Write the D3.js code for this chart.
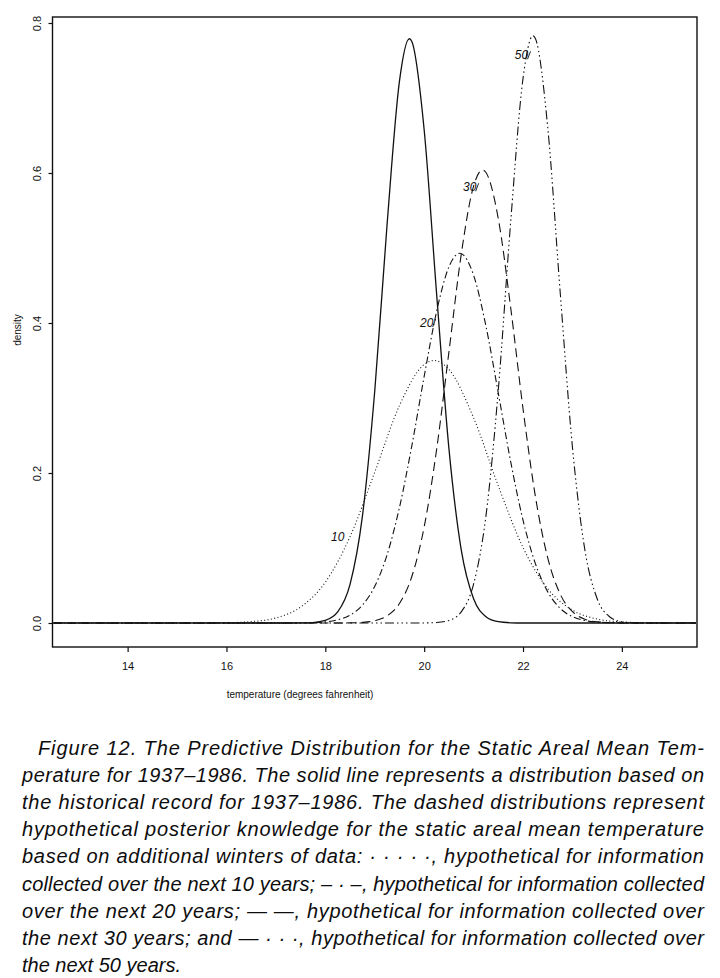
<!DOCTYPE html>
<html>
<head>
<meta charset="utf-8">
<script src="https://cdn.jsdelivr.net/npm/d3@7"></script>
<style>
  html, body { margin: 0; padding: 0; background: #fff; }
  svg { display: block; }
  .tick text { font-family: "Liberation Sans", Arial, sans-serif; }
</style>
</head>
<body>
<svg id="chart" width="720" height="978"></svg>
<script>
// densities, temperature in degrees F
const solidTemp = [12.5, 15, 17, 17.5, 17.75, 18, 18.25, 18.5, 18.75, 19, 19.25, 19.5, 19.7, 19.75, 20, 20.25, 20.5, 20.75, 21, 21.25, 21.5, 21.75, 22, 24, 25.5]
const solidDens = [0, 0, 0, 0.0001, 0.0006, 0.0034, 0.0148, 0.0516, 0.1422, 0.3093, 0.5318, 0.7224, 0.779, 0.7753, 0.6574, 0.4404, 0.2332, 0.0975, 0.0322, 0.0084, 0.0017, 0.0003, 0, 0, 0]

const tenTemp = [12.5, 15, 15.5, 16, 16.5, 17, 17.5, 18, 18.5, 19, 19.5, 20, 20.2, 20.5, 21, 21.5, 22, 22.5, 23, 23.5, 24, 24.5, 25, 25.5]
const tenDens = [0, 0, 0.0001, 0.0004, 0.0018, 0.0068, 0.0212, 0.0544, 0.1151, 0.2011, 0.2899, 0.3447, 0.35, 0.3381, 0.2736, 0.1827, 0.1006, 0.0457, 0.0171, 0.0053, 0.0014, 0.0003, 0, 0]

const twentyTemp = [12.5, 17, 17.5, 18, 18.25, 18.5, 18.75, 19, 19.25, 19.5, 19.75, 20, 20.25, 20.5, 20.72, 21, 21.25, 21.5, 21.75, 22, 22.25, 22.5, 22.75, 23, 23.5, 24, 24.5, 25.5]
const twentyDens = [0, 0, 0.0001, 0.0015, 0.0042, 0.0105, 0.0238, 0.0489, 0.0911, 0.1541, 0.2363, 0.3288, 0.4149, 0.4747, 0.493, 0.4637, 0.3958, 0.3065, 0.2152, 0.1371, 0.0792, 0.0415, 0.0197, 0.0085, 0.0012, 0.0001, 0, 0]

const thirtyTemp = [12.5, 18, 18.5, 18.75, 19, 19.25, 19.5, 19.75, 20, 20.25, 20.5, 20.75, 21, 21.18, 21.25, 21.5, 21.75, 22, 22.25, 22.5, 22.75, 23, 23.25, 23.5, 24, 24.5, 25.5]
const thirtyDens = [0, 0, 0.0002, 0.0008, 0.003, 0.0095, 0.026, 0.062, 0.1281, 0.2305, 0.3609, 0.4916, 0.5826, 0.604, 0.6007, 0.5389, 0.4206, 0.2857, 0.1688, 0.0868, 0.0388, 0.0151, 0.0051, 0.0015, 0.0001, 0, 0]

const fiftyTemp = [12.5, 19.5, 20, 20.25, 20.5, 20.75, 21, 21.25, 21.5, 21.75, 22, 22.2, 22.25, 22.5, 22.75, 23, 23.25, 23.5, 23.75, 24, 24.25, 24.5, 25.5]
const fiftyDens = [0, 0, 0.0001, 0.0006, 0.0034, 0.0149, 0.0519, 0.1429, 0.3109, 0.5346, 0.7262, 0.783, 0.7793, 0.6608, 0.4427, 0.2344, 0.098, 0.0324, 0.0084, 0.0017, 0.0003, 0, 0]

// curve labels, in data units
const labelText = ['10', '20', '30', '50']
const labelTemp = [18.25, 20.05, 20.92, 21.97]
const labelDens = [0.115, 0.4, 0.581, 0.757]

const xTicks = [14, 16, 18, 20, 22, 24]
const yTicks = [0, 0.2, 0.4, 0.6, 0.8]

const caption = [
  'Figure 12.  The Predictive Distribution for the Static Areal Mean Tem-',
  'perature for 1937\u20131986. The solid line represents a distribution based on',
  'the historical record for 1937\u20131986. The dashed distributions represent',
  'hypothetical posterior knowledge for the static areal mean temperature',
  'based on additional winters of data: \u00b7 \u00b7 \u00b7 \u00b7 \u00b7, hypothetical for information',
  'collected over the next 10 years; \u2013 \u00b7 \u2013, hypothetical for information collected',
  'over the next 20 years; \u2014 \u2014, hypothetical for information collected over',
  'the next 30 years; and \u2014 \u00b7 \u00b7 \u00b7, hypothetical for information collected over',
  'the next 50 years.'
]

const series = [
  { t: solidTemp, d: solidDens, dash: null },
  { t: tenTemp, d: tenDens, dash: '1,2.4' },
  { t: twentyTemp, d: twentyDens, dash: '7,3,1.5,3' },
  { t: thirtyTemp, d: thirtyDens, dash: '9,5' },
  { t: fiftyTemp, d: fiftyDens, dash: '9,3,1.5,3,1.5,3,1.5,3' }
]

const svg = d3.select('#chart')
const mLeft = 52.5, mRight = 697, mTop = 17, mBottom = 647

const x = d3.scaleLinear().domain([12.48, 25.52]).range([mLeft, mRight])
const y = d3.scaleLinear().domain([-0.032, 0.808]).range([mBottom, mTop])

svg.append('rect').attr('width', 720).attr('height', 978).attr('fill', '#fff')

svg.append('clipPath').attr('id', 'plotclip')
  .append('rect').attr('x', mLeft).attr('y', mTop).attr('width', mRight - mLeft).attr('height', mBottom - mTop)

const line = d3.line()
  .x(p => x(p[0]))
  .y(p => y(p[1]))
  .curve(d3.curveMonotoneX)

const plot = svg.append('g').attr('clip-path', 'url(#plotclip)')

// dashed ones first so the solid baseline sits on top
series.slice(1).concat(series.slice(0, 1)).forEach(s => {
  plot.append('path')
    .attr('d', line(d3.zip(s.t, s.d)))
    .attr('fill', 'none')
    .attr('stroke', '#111')
    .attr('stroke-width', s.dash ? 1.1 : 1.3)
    .attr('stroke-dasharray', s.dash)
})

// frame
svg.append('rect')
  .attr('x', mLeft).attr('y', mTop)
  .attr('width', mRight - mLeft).attr('height', mBottom - mTop)
  .attr('fill', 'none').attr('stroke', '#111').attr('stroke-width', 1.4)

const xAxis = svg.append('g')
  .attr('transform', `translate(0,${mBottom})`)
  .call(d3.axisBottom(x).tickValues(xTicks).tickSize(5).tickPadding(14).tickFormat(d3.format('d')))
xAxis.select('.domain').remove()
xAxis.selectAll('.tick line').attr('stroke', '#111').attr('stroke-width', 1.2)
xAxis.selectAll('.tick text').attr('font-size', 11).attr('fill', '#111').attr('dy', '0.32em')

const yAxis = svg.append('g')
  .attr('transform', `translate(${mLeft},0)`)
  .call(d3.axisLeft(y).tickValues(yTicks).tickSize(4).tickFormat(d3.format('.1f')))
yAxis.select('.domain').remove()
yAxis.selectAll('.tick line').attr('stroke', '#111').attr('stroke-width', 1.2)
yAxis.selectAll('.tick text')
  .attr('x', null).attr('dy', null)
  .attr('text-anchor', 'middle')
  .attr('font-size', 11).attr('fill', '#111')
  .attr('transform', 'translate(-12,0) rotate(-90)')

svg.append('text')
  .attr('x', 300).attr('y', 698)
  .attr('text-anchor', 'middle')
  .attr('font-family', '"Liberation Sans", Arial, sans-serif')
  .attr('font-size', 10).attr('fill', '#111')
  .text('temperature (degrees fahrenheit)')

svg.append('text')
  .attr('transform', 'translate(21,330) rotate(-90)')
  .attr('text-anchor', 'middle')
  .attr('font-family', '"Liberation Sans", Arial, sans-serif')
  .attr('font-size', 10).attr('fill', '#111')
  .text('density')

// curve labels with their little leader strokes
labelText.forEach((txt, i) => {
  const lx = x(labelTemp[i]), ly = y(labelDens[i])
  svg.append('text')
    .attr('x', lx).attr('y', ly + 4)
    .attr('text-anchor', 'middle')
    .attr('font-family', '"Liberation Sans", Arial, sans-serif')
    .attr('font-style', 'italic')
    .attr('font-size', 12).attr('fill', '#111')
    .text(txt)
  if (i > 0) {
    svg.append('line')
      .attr('x1', lx + 6).attr('y1', ly + 4)
      .attr('x2', lx + 9).attr('y2', ly - 4)
      .attr('stroke', '#111').attr('stroke-width', 0.9)
  }
})

// caption, justified like the printed page
const cap = svg.append('g')
  .attr('font-family', '"Liberation Sans", Arial, sans-serif')
  .attr('font-style', 'italic')
  .attr('font-size', 20)
  .attr('fill', '#0d0d0d')
caption.forEach((txt, i) => {
  const x0 = i === 0 ? 38 : 22
  const t = cap.append('text')
    .attr('x', x0).attr('y', 755 + i * 27.1)
    .text(txt)
  if (i < caption.length - 1) {
    t.attr('textLength', 704 - x0).attr('lengthAdjust', 'spacing')
  }
})
</script>
</body>
</html>
